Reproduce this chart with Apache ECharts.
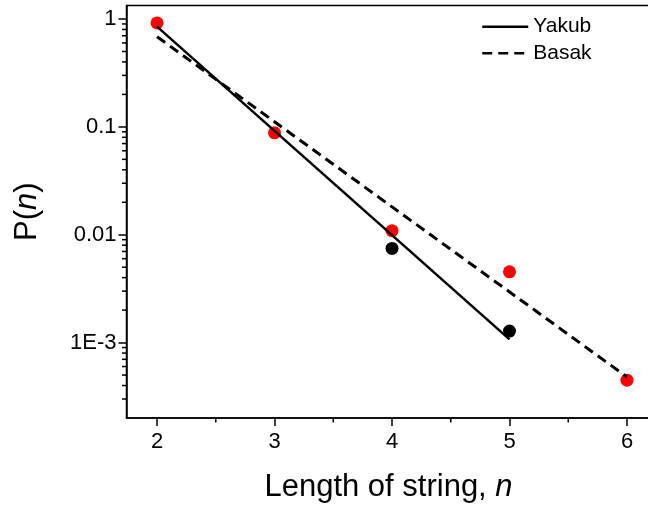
<!DOCTYPE html>
<html><head><meta charset="utf-8">
<script src="https://cdn.jsdelivr.net/npm/echarts@6/dist/echarts.min.js"></script>
<style>html,body{margin:0;padding:0;background:#fff}#c{width:648px;height:505px}</style>
</head><body><div id="c"></div>
<script>
// ---- data ----
const redX = [2, 3, 4, 5, 6];
const redY = [0.92, 0.088, 0.0109, 0.00453, 0.000448];
const blackX = [4, 5];
const blackY = [0.00746, 0.00128];
const yakubX = [2, 5];
const yakubY = [0.85, 0.00107];
const basakX = [2, 6];
const basakY = [0.685, 0.00048];
const xTicks = [2, 3, 4, 5, 6];
const xMinorTicks = [2.5, 3.5, 4.5, 5.5];
const yTickValues = [1, 0.1, 0.01, 0.001];
const yTickLabels = ['1', '0.1', '0.01', '1E-3'];
const yMinorTicks = [0.9, 0.8, 0.7, 0.6, 0.5, 0.4, 0.3, 0.2,
  0.09, 0.08, 0.07, 0.06, 0.05, 0.04, 0.03, 0.02,
  0.009, 0.008, 0.007, 0.006, 0.005, 0.004, 0.003, 0.002,
  0.0009, 0.0008, 0.0007, 0.0006, 0.0005, 0.0004, 0.0003];
const X_MIN = 1.74, X_MAX = 6.2, Y_MIN = 0.0002, Y_MAX = 1.334;

const FONT = '"Liberation Sans", Arial, sans-serif';
const zip = (a, b) => a.map((v, i) => [v, b[i]]);

const chart = echarts.init(document.getElementById('c'), null, {renderer: 'canvas'});
chart.setOption({
  animation: false,
  backgroundColor: '#fff',
  textStyle: {fontFamily: FONT},
  grid: {left: 126.5, top: 5.5, width: 524, height: 412.5, show: true, containLabel: false,
         outerBoundsMode: 'none',
         borderColor: '#000', borderWidth: 1.5, backgroundColor: 'transparent'},
  legend: {
    data: ['Yakub', 'Basak'], orient: 'vertical', left: 481, top: 14.7, padding: 0,
    itemWidth: 46, itemHeight: 14, itemGap: 2.5, selectedMode: false,
    itemStyle: {opacity: 0}, lineStyle: {width: 2.5},
    textStyle: {fontFamily: FONT, fontSize: 21, color: '#000', lineHeight: 24}
  },
  xAxis: {
    type: 'value', min: X_MIN, max: X_MAX,
    name: 'Length of string, {i|n}', nameLocation: 'middle', nameGap: 54,
    nameTextStyle: {fontFamily: FONT, fontSize: 31, color: '#000',
      rich: {i: {fontFamily: FONT, fontSize: 31, fontStyle: 'italic', color: '#000'}}},
    axisLine: {show: true, onZero: false, lineStyle: {color: '#000', width: 1.5}},
    axisTick: {show: true, inside: false, length: 8, customValues: xTicks, lineStyle: {color: '#000', width: 1.5}},
    axisLabel: {customValues: xTicks, margin: 13, fontFamily: FONT, fontSize: 22, color: '#000'},
    splitLine: {show: false}
  },
  yAxis: {
    type: 'log', logBase: 10, min: Y_MIN, max: Y_MAX,
    name: 'P({i|n})', nameLocation: 'middle', nameGap: 84,
    nameTextStyle: {fontFamily: FONT, fontSize: 31, color: '#000',
      rich: {i: {fontFamily: FONT, fontSize: 31, fontStyle: 'italic', color: '#000'}}},
    axisLine: {show: true, onZero: false, lineStyle: {color: '#000', width: 1.5}},
    axisTick: {show: true, inside: false, length: 8, lineStyle: {color: '#000', width: 1.5}},
    axisLabel: {showMinLabel: false, showMaxLabel: false, margin: 10, fontFamily: FONT, fontSize: 22, color: '#000',
      formatter: v => {
        let best = 0, bd = Infinity;
        yTickValues.forEach((t, i) => { const d = Math.abs(Math.log10(v) - Math.log10(t)); if (d < bd) { bd = d; best = i; } });
        return bd < 0.01 ? yTickLabels[best] : '';
      }},
    splitLine: {show: false}, minorTick: {show: false}
  },
  series: [
    {name: 'red', type: 'scatter', data: zip(redX, redY), symbol: 'circle', symbolSize: 13,
     itemStyle: {color: '#ff0000', opacity: 1}, z: 2},
    {name: 'black', type: 'scatter', data: zip(blackX, blackY), symbol: 'circle', symbolSize: 13,
     itemStyle: {color: '#000000', opacity: 1}, z: 2},
    {name: 'Yakub', type: 'line', data: zip(yakubX, yakubY), symbol: 'none',
     lineStyle: {color: '#000', width: 2.5, type: 'solid'}, itemStyle: {color: '#000'}, z: 3},
    {name: 'Basak', type: 'line', data: zip(basakX, basakY), symbol: 'none',
     lineStyle: {color: '#000', width: 3, type: [10, 6]}, itemStyle: {color: '#000'}, z: 3},
    {name: 'xminor', type: 'custom', clip: false, silent: true, data: xMinorTicks.map(v => [v, Y_MIN]),
     renderItem: (params, api) => {
       const p = api.coord([api.value(0), api.value(1)]);
       return {type: 'line', shape: {x1: p[0], y1: p[1], x2: p[0], y2: p[1] + 4.5},
               style: {stroke: '#000', lineWidth: 1.5}};
     }, z: 5},
    {name: 'yminor', type: 'custom', clip: false, silent: true, data: yMinorTicks.map(v => [X_MIN, v]),
     renderItem: (params, api) => {
       const p = api.coord([api.value(0), api.value(1)]);
       return {type: 'line', shape: {x1: p[0] - 4.5, y1: p[1], x2: p[0], y2: p[1]},
               style: {stroke: '#000', lineWidth: 1.5}};
     }, z: 5}
  ]
});
</script></body></html>
